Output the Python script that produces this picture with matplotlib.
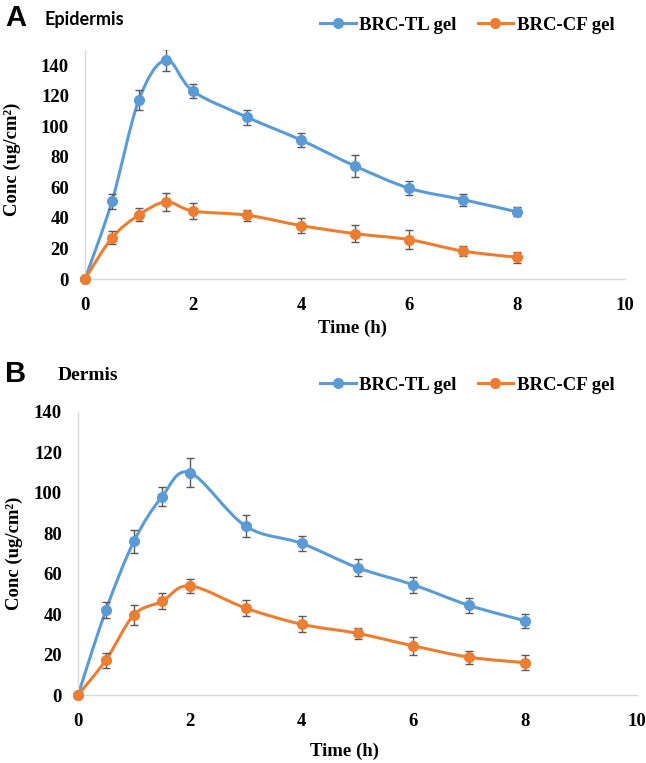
import matplotlib
matplotlib.use("Agg")
import matplotlib.pyplot as plt
import numpy as np
from matplotlib.path import Path
from matplotlib.patches import PathPatch
from matplotlib.lines import Line2D

# data
time = [0, 0.5, 1, 1.5, 2, 3, 4, 5, 6, 7, 8]

epi_tl = [0, 51, 117.5, 143.5, 123, 106, 91, 74, 59.5, 52, 44]
epi_tl_err = [0, 5, 6.5, 7, 4.7, 5, 4.8, 7.5, 4.7, 4, 3]
epi_cf = [0, 27, 42, 50.5, 44.5, 41.8, 35, 29.7, 25.8, 18.3, 14.2]
epi_cf_err = [0, 4.2, 4.3, 6, 5.2, 3.5, 4.8, 5.4, 6, 3, 3.6]

der_tl = [0, 42, 76, 98, 110, 83.5, 75, 63, 54.5, 44.3, 36.7]
der_tl_err = [0, 4, 5.6, 4.7, 7, 5.5, 3.9, 4.1, 3.8, 3.6, 3.6]
der_cf = [0, 17.3, 39.6, 46.3, 54, 43, 35, 30.5, 24.3, 18.7, 16]
der_cf_err = [0, 3.7, 5, 4, 3.4, 3.8, 4, 2.6, 4.4, 3.3, 3.8]

series_names = ["BRC-TL gel", "BRC-CF gel"]
blue = "#5B9BD5"
orange = "#ED7D31"
serif = "Liberation Serif"

W, H = 646, 763
fig = plt.figure(figsize=(W / 100, H / 100), dpi=100)


def smooth_path(x, y):
    # Catmull-Rom style bezier, like a spreadsheet "smoothed line"
    p = np.column_stack([x, y]).astype(float)
    n = len(p)
    verts = [p[0]]
    codes = [Path.MOVETO]
    for i in range(n - 1):
        p0 = p[i - 1] if i > 0 else p[i]
        p1 = p[i]
        p2 = p[i + 1]
        p3 = p[i + 2] if i + 2 < n else p[i + 1]
        c1 = p1 + (p2 - p0) / 6
        c2 = p2 - (p3 - p1) / 6
        verts += [c1, c2, p2]
        codes += [Path.CURVE4] * 3
    return Path(verts, codes)


def panel(rect, tl, tl_err, cf, cf_err, ymax, yticks):
    ax = fig.add_axes(rect)
    for vals, err, col in [(tl, tl_err, blue), (cf, cf_err, orange)]:
        ax.add_patch(PathPatch(smooth_path(time, vals), fill=False,
                               edgecolor=col, lw=2.2, zorder=2))
        ax.errorbar(time, vals, yerr=err, fmt="none", ecolor="#595959",
                    elinewidth=1, capsize=3, capthick=1, zorder=3)
        ax.plot(time, vals, "o", color=col, ms=7, zorder=4, clip_on=False)
    ax.set_xlim(0, 10)
    ax.set_ylim(0, ymax)
    ax.set_xticks([0, 2, 4, 6, 8, 10])
    ax.set_yticks(yticks)
    for s in ["top", "right"]:
        ax.spines[s].set_visible(False)
    for s in ["left", "bottom"]:
        ax.spines[s].set_color("#D9D9D9")
        ax.spines[s].set_linewidth(1)
    ax.tick_params(axis="x", length=0, pad=13)
    ax.tick_params(axis="y", length=0, pad=11.5)
    for lab in ax.get_xticklabels() + ax.get_yticklabels():
        lab.set_fontfamily(serif)
        lab.set_fontweight("bold")
        lab.set_fontsize(13.5)
    return ax


ax1 = panel([85 / W, (H - 279) / H, 540 / W, 229 / H],
            epi_tl, epi_tl_err, epi_cf, epi_cf_err, 150, range(0, 141, 20))
ax2 = panel([78 / W, (H - 695) / H, 559 / W, 283 / H],
            der_tl, der_tl_err, der_cf, der_cf_err, 140, range(0, 141, 20))

label_font = dict(family=serif, weight="bold", size=13.5)
fig.text(12 / W, 1 - 159 / H, "Conc (ug/cm²)", rotation=90,
         ha="center", va="center", **label_font)
fig.text(14 / W, 1 - 553 / H, "Conc (ug/cm²)", rotation=90,
         ha="center", va="center", **label_font)
fig.text(352 / W, 1 - 328 / H, "Time (h)", ha="center", va="center", **label_font)
fig.text(345 / W, 1 - 751 / H, "Time (h)", ha="center", va="center", **label_font)

# panel letters and titles
fig.text(5 / W, 1 - 18 / H, "A", family="Liberation Sans", weight="bold",
         size=21, va="center")
fig.text(44 / W, 1 - 19 / H, "Epidermis", family="Lato", weight="bold",
         size=13, va="center")
fig.text(5 / W, 1 - 374 / H, "B", family="Liberation Sans", weight="bold",
         size=21, va="center")
fig.text(58 / W, 1 - 375 / H, "Dermis", family=serif, weight="bold",
         size=14, va="center")

handles = [Line2D([], [], color=blue, lw=2.2, marker="o", ms=7),
           Line2D([], [], color=orange, lw=2.2, marker="o", ms=7)]
for ypix in [25, 385]:
    fig.legend(handles, series_names, loc="center left",
               bbox_to_anchor=(320 / W, 1 - ypix / H), ncol=2, frameon=False,
               prop=dict(family=serif, weight="bold", size=13.5),
               handlelength=1.9, handletextpad=0.2, columnspacing=1.1,
               borderaxespad=0, borderpad=0)

fig.savefig("out.png", dpi=100)
